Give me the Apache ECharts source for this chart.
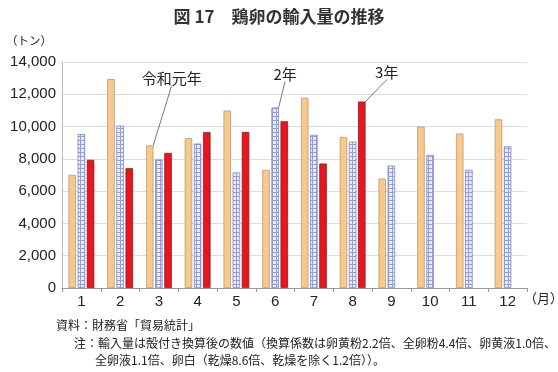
<!DOCTYPE html>
<html><head><meta charset="utf-8">
<script src="https://cdn.jsdelivr.net/npm/echarts@6/dist/echarts.min.js"></script>
<style>html,body{margin:0;padding:0;background:#fff}#c{width:558px;height:372px}</style>
</head><body><div id="c"></div>
<script>
const months = ['1','2','3','4','5','6','7','8','9','10','11','12'];
const yTicks = [0,2000,4000,6000,8000,10000,12000,14000];
const seriesNames = ['令和元年','2年','3年'];
const r1 = [7010,12950,8830,9280,10990,7320,11780,9360,6780,10000,9570,10450];
const r2 = [9530,10060,7960,8950,7160,11180,9490,9070,7590,8250,7320,8780];
const r3 = [7940,7420,8370,9650,9670,10330,7710,11550,null,null,null,null];
const annotIdx = [2,5,7];

const pc = document.createElement('canvas');
pc.width = 4; pc.height = 4;
const g = pc.getContext('2d');
g.fillStyle = '#eaecf9'; g.fillRect(0,0,4,4);
g.fillStyle = '#959ed8'; g.fillRect(0,0,4,1); g.fillRect(0,0,1,4);

const font = '"Noto Sans CJK JP", "Noto Sans", sans-serif';
const numFont = '"Liberation Sans", Arial, sans-serif';
const chart = echarts.init(document.getElementById('c'), null, {renderer:'canvas'});
const offs = [{dx:22,dy:-55},{dx:10,dy:-21},{dx:25,dy:-17}];
function mk(name, vals, color, border, k){
  return {
    name, type:'bar', data: vals.map((v,i)=> i===annotIdx[k] ? {value:v, label:{show:true}} : v),
    barWidth:7.5, barGap:'22%',
    itemStyle:{color, borderColor:border, borderWidth:0.8},
    label:{show:false, position:'top', formatter:name, fontFamily:font, fontSize:15, color:'#222'},
    labelLine:{show:true, lineStyle:{color:'#555', width:0.8}, smooth:false},
    labelLayout: function(p){ return p.dataIndex===annotIdx[k] ? {dx:offs[k].dx, dy:offs[k].dy} : {}; },
    animation:false
  };
}
chart.setOption({
  animation:false,
  title:{text:'図 17　鶏卵の輸入量の推移', left:'center', top:3,
    textStyle:{fontFamily:font, fontSize:17, fontWeight:'bold', color:'#333'}},
  grid:{left:62, right:31, top:62, bottom:84},
  xAxis:{type:'category', data:months,
    axisLine:{lineStyle:{color:'#999'}}, axisTick:{show:true, length:4, lineStyle:{color:'#999'}},
    axisLabel:{fontFamily:numFont, fontSize:15, color:'#222', margin:6}},
  yAxis:{type:'value', min:0, max:14000, interval:2000,
    axisLine:{show:true, lineStyle:{color:'#bbb'}}, axisTick:{show:false},
    splitLine:{lineStyle:{color:'#dcdcdc'}},
    axisLabel:{fontFamily:numFont, fontSize:15, color:'#222', margin:6,
      formatter:v=>yTicks.includes(v)?v.toLocaleString('en-US'):''}},
  graphic:[
    {type:'text', left:6, top:35, style:{text:'（トン）', font:'11.5px '+font, fill:'#222'}},
    {type:'text', left:524, top:292, style:{text:'（月）', font:'13px '+font, fill:'#222'}},
    {type:'text', left:56, top:319, style:{text:'資料：財務省「貿易統計」', font:'12px '+font, fill:'#222'}},
    {type:'text', left:74, top:337, style:{text:'注：輸入量は殻付き換算後の数値（換算係数は卵黄粉2.2倍、全卵粉4.4倍、卵黄液1.0倍、', font:'12px '+font, fill:'#222'}},
    {type:'text', left:95, top:354, style:{text:'全卵液1.1倍、卵白（乾燥8.6倍、乾燥を除く1.2倍））。', font:'12px '+font, fill:'#222'}}
  ],
  series:[
    mk(seriesNames[0], r1, '#f9c88d', '#b99a78', 0),
    mk(seriesNames[1], r2, {image:pc, repeat:'repeat'}, '#8088bb', 1),
    mk(seriesNames[2], r3, '#e8161f', '#8a1a1a', 2)
  ]
});
</script></body></html>
